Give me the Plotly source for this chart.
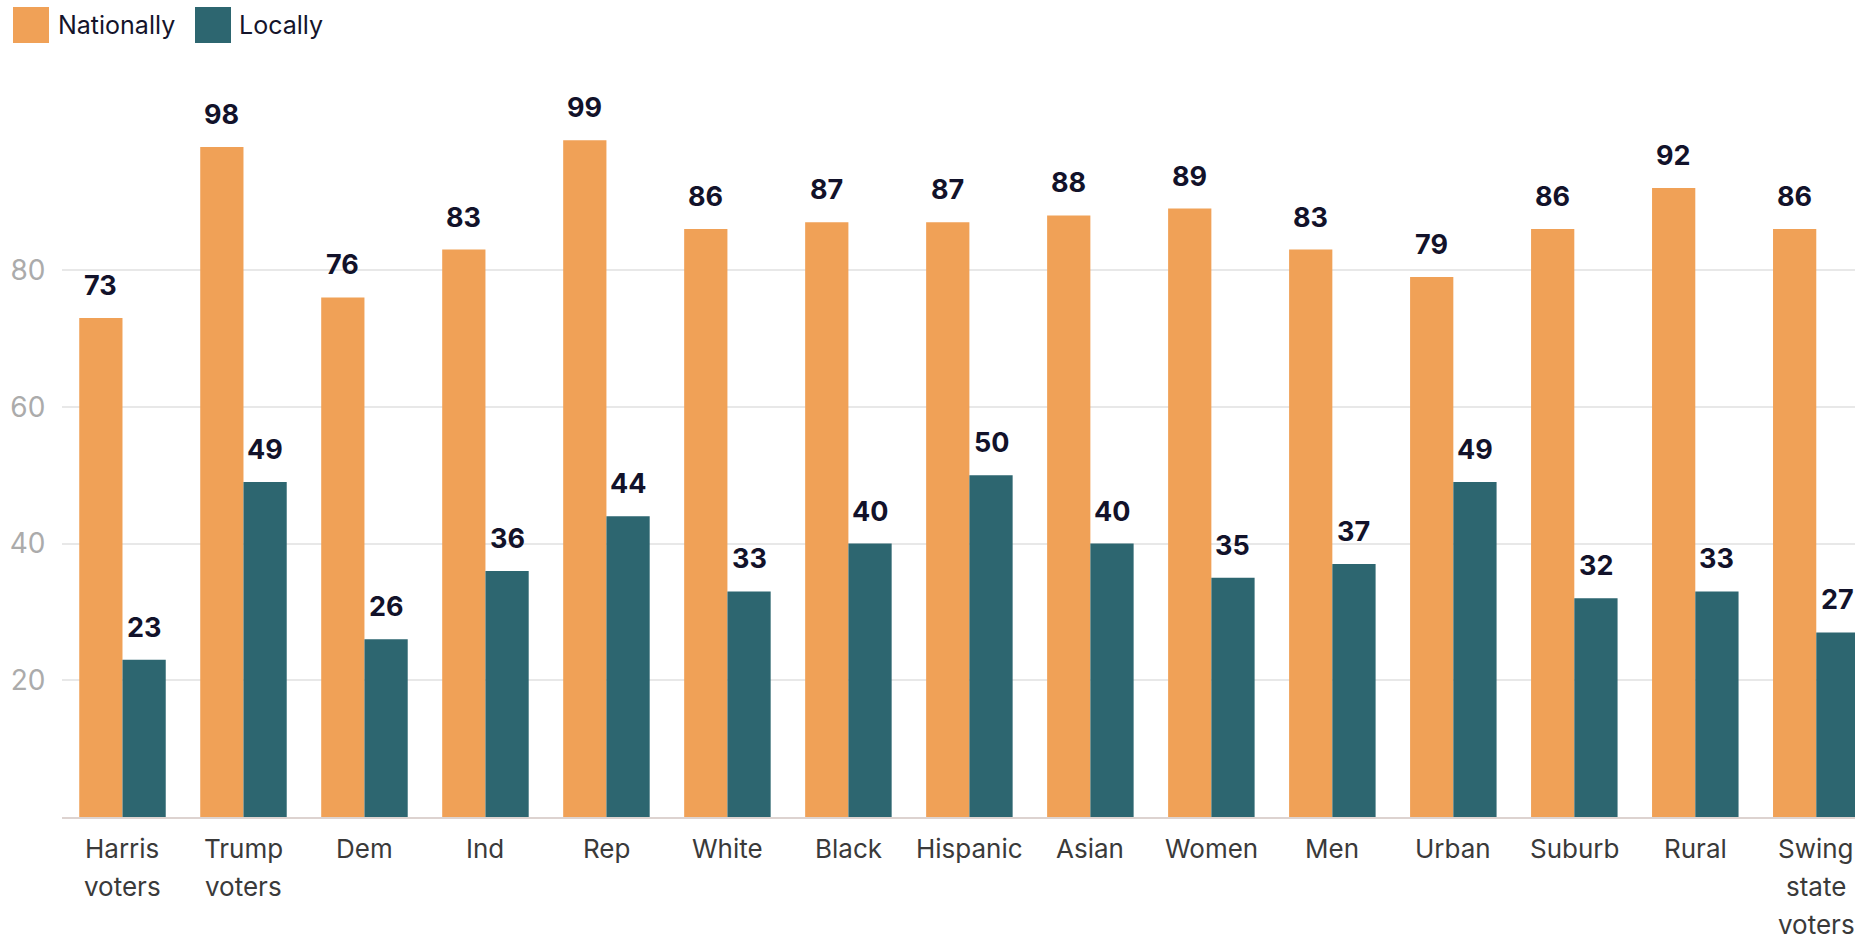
import plotly.graph_objects as go

# ---- data ----
categories = ["Harris voters", "Trump voters", "Dem", "Ind", "Rep", "White", "Black",
              "Hispanic", "Asian", "Women", "Men", "Urban", "Suburb", "Rural",
              "Swing state voters"]
nationally = [73, 98, 76, 83, 99, 86, 87, 87, 88, 89, 83, 79, 86, 92, 86]
locally = [23, 49, 26, 36, 44, 33, 40, 50, 40, 35, 37, 49, 32, 33, 27]
series_names = ["Nationally", "Locally"]
y_ticks = [20, 40, 60, 80]

# ---- style ----
COLORS = ["#F0A157", "#2D6670"]
FONT = "Inter"
BARGAP = 0.285
W, H = 1855, 942
ML, MR, MT, MB = 62, 0, 65, 125

fig = go.Figure()
for name, vals, col in zip(series_names, [nationally, locally], COLORS):
    fig.add_trace(go.Bar(
        name=name, x=categories, y=vals, marker=dict(color=col, line=dict(width=0)),
        showlegend=False, hoverinfo="x+y+name",
    ))

annotations = []
# value labels above bars
half = (1 - BARGAP) / 4
for s, vals in enumerate([nationally, locally]):
    off = -half if s == 0 else half
    for i, v in enumerate(vals):
        annotations.append(dict(
            x=i + off, y=v, xref="x", yref="y", text=str(v), showarrow=False,
            xanchor="center", yanchor="bottom", yshift=14,
            font=dict(family=FONT, size=27, color="#12122A", weight=700),
        ))

# category labels (multi-line, looser line spacing)
for i, cat in enumerate(categories):
    for j, line in enumerate(cat.split(" ")):
        annotations.append(dict(
            x=i, y=0, xref="x", yref="paper", text=line, showarrow=False,
            xanchor="center", yanchor="middle", yshift=-31 - 38 * j,
            font=dict(family=FONT, size=26, color="#3A3A3A"),
        ))

# legend swatches and texts
shapes = []
for k, (name, col) in enumerate(zip(series_names, COLORS)):
    x0 = [-49, 133][k]
    shapes.append(dict(type="rect", xref="paper", yref="paper", xanchor=0, yanchor=1,
                       xsizemode="pixel", ysizemode="pixel",
                       x0=x0, x1=x0 + 36, y0=22, y1=58,
                       fillcolor=col, line=dict(width=0)))
    annotations.append(dict(
        x=0, y=1, xref="paper", yref="paper", text=name, showarrow=False,
        xanchor="left", yanchor="middle", xshift=[-6, 175][k], yshift=40,
        font=dict(family=FONT, size=25, color="#14142B"),
    ))

fig.update_layout(
    width=W, height=H, autosize=False,
    margin=dict(l=ML, r=MR, t=MT, b=MB),
    paper_bgcolor="white", plot_bgcolor="white",
    barmode="group", bargap=BARGAP, bargroupgap=0,
    font=dict(family=FONT),
    annotations=annotations, shapes=shapes,
    xaxis=dict(
        type="category", range=[-0.5, 14.32], showticklabels=False,
        showgrid=False, showline=True, linecolor="#DDD3D0", linewidth=2,
        ticks="", zeroline=False, fixedrange=True,
    ),
    yaxis=dict(
        range=[0, 110], tickvals=y_ticks, showgrid=True, gridcolor="#E8E8E8",
        gridwidth=2, zeroline=False, showline=False,
        ticks="outside", ticklen=10, tickcolor="rgba(0,0,0,0)",
        tickfont=dict(family=FONT, size=28, color="#ABABAB"), fixedrange=True,
    ),
)

fig.write_html(
    "out.html",
    config={"displayModeBar": False},
    post_script="document.body.style.margin='0';document.body.style.overflow='hidden';",
)
